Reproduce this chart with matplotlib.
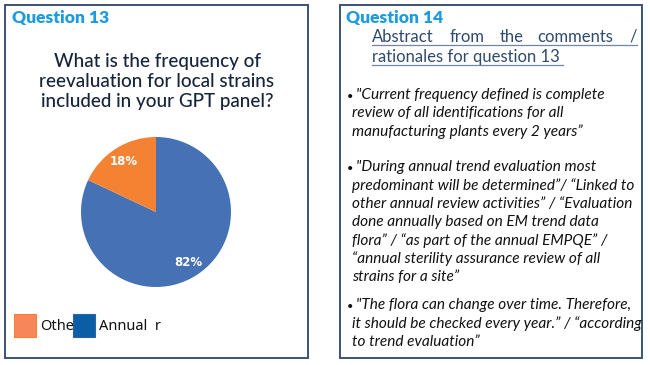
import matplotlib
matplotlib.use("Agg")
import matplotlib.pyplot as plt
from matplotlib.patches import Rectangle

# data
labels = ["Annual", "Other"]
values = [82, 18]
pie_colors = ["#4672B5", "#F58232"]
legend_labels = ["Othe", "Annual  r"]
legend_colors = ["#F7875A", "#0B5EA6"]
legend_edges = ["#F58232", "#2F62A0"]

question = ["What is the frequency of",
            "reevaluation for local strains",
            "included in your GPT panel?"]

abstract_words = ["Abstract", "from", "the", "comments", "/"]
abstract_line2 = "rationales for question 13"

bullets = [
    ["\"Current frequency defined is complete",
     "review of all identifications for all",
     "manufacturing plants every 2 years\u201d"],
    ["\"During annual trend evaluation most",
     "predominant will be determined\u201d/ \u201cLinked to",
     "other annual review activities\u201d / \u201cEvaluation",
     "done annually based on EM trend data",
     "flora\u201d / \u201cas part of the annual EMPQE\u201d /",
     "\u201cannual sterility assurance review of all",
     "strains for a site\u201d"],
    ["\"The flora can change over time. Therefore,",
     "it should be checked every year.\u201d / \u201caccording",
     "to trend evaluation\u201d"],
]

W, H = 650, 365
fig = plt.figure(figsize=(6.5, 3.65), dpi=100)
bg = fig.add_axes([0, 0, 1, 1])
bg.set_xlim(0, W)
bg.set_ylim(H, 0)
bg.axis("off")

border = "#3B5374"
bg.add_patch(Rectangle((5, 5), 303, 353, fill=False, ec=border, lw=1.4))
bg.add_patch(Rectangle((340, 5), 302, 353, fill=False, ec=border, lw=1.4))

head_blue = "#1C9BE0"
bg.text(12, 18, "Question 13", color=head_blue, fontsize=12.5, family="Lato",
        weight="heavy", va="center", ha="left")
bg.text(346, 18, "Question 14", color=head_blue, fontsize=12.5, family="Lato",
        weight="heavy", va="center", ha="left")

for i, line in enumerate(question):
    bg.text(157, 61 + i * 20.5, line, color="#16243C", fontsize=13.6, family="Lato",
            weight="medium", va="center", ha="center")

# abstract heading (justified first line)
abs_col = "#2E4A6E"
word_x = [372, 450, 500, 537, 637]
for w, x in zip(abstract_words, word_x):
    bg.text(x, 37, w, color=abs_col, fontsize=12, family="Lato",
            va="center", ha="right" if w == "/" else "left")
bg.text(372, 57, abstract_line2, color=abs_col, fontsize=12, family="Lato",
        va="center", ha="left")
bg.plot([372, 637], [45, 45], color="#6F86A6", lw=0.9)
bg.plot([372, 563], [65, 65], color="#6F86A6", lw=0.9)

# bullet comments
starts = [95, 167, 305]
for b, y0 in zip(bullets, starts):
    bg.text(347, y0 + 1, "\u2022", color="#111111", fontsize=8,
            family="Lato", va="center", ha="left")
    for j, line in enumerate(b):
        bg.text(356 if j == 0 else 352, y0 + j * 18.3, line, color="#111111",
                fontsize=11.1, family="Lato", style="italic", va="center", ha="left")

# pie
cx, cy, r = 156, 212, 75
pax = fig.add_axes([(cx - r) / W, (H - cy - r) / H, 2 * r / W, 2 * r / H])
wedges, texts, autotexts = pax.pie(values, colors=pie_colors, startangle=90,
                                   counterclock=False, autopct="%d%%",
                                   pctdistance=0.8,
                                   textprops=dict(color="white", fontsize=8.5,
                                                  weight="bold"))
pax.set_xlim(-1, 1)
pax.set_ylim(-1, 1)
pax.set_aspect("equal")

# legend
lx = [14, 73]
tx = [40, 99]
for i in range(2):
    bg.add_patch(Rectangle((lx[i], 314), 22, 23, fc=legend_colors[i],
                           ec=legend_edges[i], lw=0.8))
    bg.text(tx[i], 326, legend_labels[i], color="#111111", fontsize=10.5,
            family="Noto Sans", va="center", ha="left")

fig.savefig("out.png", dpi=100)
